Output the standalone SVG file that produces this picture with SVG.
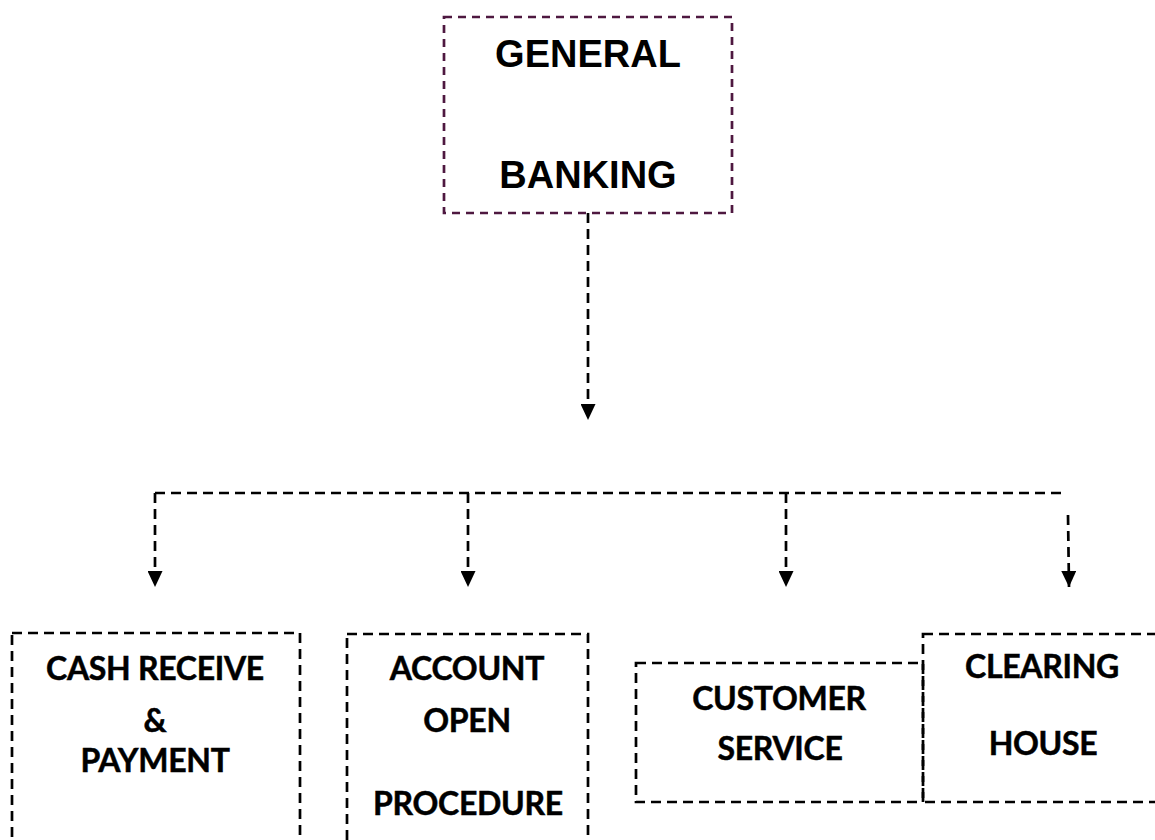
<svg xmlns="http://www.w3.org/2000/svg" width="1155" height="840" viewBox="0 0 1155 840">
  <style>
    .box { fill: none; stroke: #000; stroke-width: 2.7; stroke-dasharray: 10 6; }
    .box-top { fill: none; stroke: #4e1840; stroke-width: 2.7; stroke-dasharray: 8 6; }
    .link { fill: none; stroke: #000; stroke-width: 2.7; stroke-dasharray: 10 6; }
    .title { font-family: "Liberation Sans", Arial, sans-serif; font-weight: bold; font-size: 38px; fill: #000; text-anchor: middle; }
    .label { font-family: Lato, "Open Sans", sans-serif; font-weight: bold; font-size: 32px; letter-spacing: -0.3px; fill: #000; stroke: #000; stroke-width: 0.5; text-anchor: middle; }
  </style>
  <defs>
    <marker id="arrow" viewBox="0 0 16 15" refX="16" refY="7.5" markerWidth="16" markerHeight="15" markerUnits="userSpaceOnUse" orient="auto">
      <path d="M0,0 L16,7.5 L0,15 z" fill="#000"/>
    </marker>
  </defs>

  <!-- root node -->
  <g id="general-banking">
    <rect class="box-top" x="444" y="17" width="288" height="196"/>
    <text class="title" x="588" y="67">GENERAL</text>
    <text class="title" x="588" y="188">BANKING</text>
  </g>

  <!-- connectors -->
  <g id="connectors">
    <line class="link" x1="588" y1="213" x2="588" y2="420" marker-end="url(#arrow)"/>
    <line class="link" x1="155" y1="493" x2="1063" y2="493"/>
    <line class="link" x1="155" y1="493" x2="155" y2="587" marker-end="url(#arrow)"/>
    <line class="link" x1="468" y1="493" x2="468" y2="587" marker-end="url(#arrow)"/>
    <line class="link" x1="786" y1="493" x2="786" y2="587" marker-end="url(#arrow)"/>
    <line class="link" x1="1068" y1="515" x2="1069" y2="587" marker-end="url(#arrow)"/>
  </g>

  <!-- child nodes -->
  <g id="cash-receive-payment">
    <rect class="box" x="12" y="633" width="288" height="230"/>
    <text class="label" x="155" y="680">CASH RECEIVE</text>
    <text class="label" x="155" y="732">&amp;</text>
    <text class="label" x="155" y="772">PAYMENT</text>
  </g>

  <g id="account-open-procedure">
    <rect class="box" x="347" y="634" width="241" height="230"/>
    <text class="label" x="467" y="680">ACCOUNT</text>
    <text class="label" x="467" y="732">OPEN</text>
    <text class="label" x="468" y="815">PROCEDURE</text>
  </g>

  <g id="customer-service">
    <rect class="box" x="636" y="663" width="287" height="139"/>
    <text class="label" x="779" y="710">CUSTOMER</text>
    <text class="label" x="780" y="760">SERVICE</text>
  </g>

  <g id="clearing-house">
    <rect class="box" x="923" y="634" width="250" height="168"/>
    <text class="label" x="1042" y="678">CLEARING</text>
    <text class="label" x="1043" y="755">HOUSE</text>
  </g>
</svg>
